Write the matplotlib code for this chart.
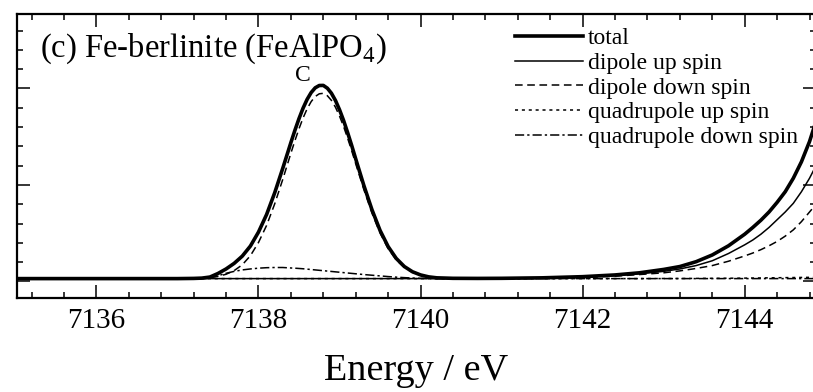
import matplotlib
matplotlib.use("Agg")
import matplotlib.pyplot as plt
from matplotlib.ticker import MultipleLocator, NullFormatter

plt.rcParams["font.family"] = ["Liberation Serif", "DejaVu Serif"]
plt.rcParams["mathtext.fontset"] = "custom"
plt.rcParams["mathtext.rm"] = "Liberation Serif"

# energy grid (eV)
energy = [7135.0, 7136.0, 7136.8,
          7137.0, 7137.1, 7137.2, 7137.3, 7137.4, 7137.5, 7137.6, 7137.7,
          7137.8, 7137.9, 7138.0, 7138.1, 7138.2, 7138.3, 7138.4,
          7138.45, 7138.5, 7138.55, 7138.6, 7138.65, 7138.7, 7138.75, 7138.8,
          7138.85, 7138.9, 7138.95, 7139.0, 7139.05, 7139.1, 7139.15,
          7139.2, 7139.3, 7139.4, 7139.5, 7139.6, 7139.7, 7139.8, 7139.9,
          7140.0, 7140.1, 7140.2,
          7140.4, 7140.7, 7141.0, 7141.5, 7142.0, 7142.4, 7142.7, 7143.0,
          7143.2, 7143.4, 7143.6, 7143.8, 7144.0, 7144.1, 7144.2, 7144.3,
          7144.4, 7144.5, 7144.6, 7144.7, 7144.8, 7144.88]

total = [0.03, 0.03, 0.03,
         0.03, 0.031, 0.032, 0.035, 0.046, 0.083, 0.130, 0.188,
         0.263, 0.367, 0.512, 0.694, 0.919, 1.174, 1.440,
         1.568, 1.688, 1.796, 1.887, 1.958, 2.007, 2.031, 2.032,
         2.003, 1.951, 1.876, 1.780, 1.669, 1.543, 1.410,
         1.270, 0.996, 0.745, 0.530, 0.362, 0.239, 0.155, 0.101,
         0.068, 0.048, 0.038,
         0.033, 0.032, 0.033, 0.038, 0.05, 0.068, 0.09, 0.125,
         0.155, 0.205, 0.275, 0.37, 0.49, 0.56, 0.635, 0.72,
         0.82, 0.93, 1.07, 1.24, 1.45, 1.66]

dipole_up = [0.03] * 44 + [
    0.03, 0.031, 0.032, 0.036, 0.045, 0.06, 0.08, 0.105,
    0.13, 0.165, 0.215, 0.29, 0.38, 0.43, 0.49, 0.56,
    0.64, 0.72, 0.81, 0.93, 1.07, 1.20]

dipole_down = [0.03, 0.03, 0.03,
               0.03, 0.031, 0.032, 0.035, 0.041, 0.053, 0.075, 0.113,
               0.173, 0.267, 0.404, 0.581, 0.804, 1.059, 1.330,
               1.460, 1.583, 1.694, 1.789, 1.864, 1.917, 1.945, 1.950,
               1.925, 1.877, 1.806, 1.714, 1.607, 1.485, 1.356,
               1.220, 0.954, 0.710, 0.502, 0.341, 0.224, 0.145, 0.095,
               0.065, 0.047, 0.038,
               0.031, 0.03, 0.031, 0.034, 0.04, 0.055, 0.072, 0.09,
               0.11, 0.135, 0.165, 0.21, 0.265, 0.295, 0.33, 0.37,
               0.415, 0.47, 0.535, 0.62, 0.72, 0.80]

quad_up = [0.03] * 44 + [
    0.03, 0.03, 0.03, 0.03, 0.03, 0.03, 0.03, 0.031,
    0.031, 0.032, 0.033, 0.034, 0.035, 0.036, 0.037, 0.038,
    0.039, 0.04, 0.041, 0.042, 0.043, 0.044]

quad_down = [0.03, 0.03, 0.03,
             0.03, 0.03, 0.03, 0.03, 0.035, 0.06, 0.085, 0.105,
             0.12, 0.13, 0.138, 0.143, 0.145, 0.145, 0.14,
             0.138, 0.135, 0.132, 0.128, 0.124, 0.12, 0.116, 0.112,
             0.108, 0.104, 0.100, 0.096, 0.092, 0.088, 0.084,
             0.08, 0.072, 0.065, 0.058, 0.051, 0.045, 0.04, 0.036,
             0.033, 0.031, 0.03] + [0.03] * 22

for s in (total, dipole_up, dipole_down, quad_up, quad_down):
    assert len(s) == len(energy)

fig = plt.figure(figsize=(8.13, 3.92), dpi=100)
ax = fig.add_axes([17 / 813, 94 / 392, 799 / 813, 284 / 392])

ax.plot(energy, quad_down, color="black", lw=1.1, ls=(0, (6, 2, 1.5, 2)),
        label="quadrupole down spin")
ax.plot(energy, quad_up, color="black", lw=1.1, ls=(0, (2, 2.5)),
        label="quadrupole up spin")
ax.plot(energy, dipole_down, color="black", lw=1.1, ls=(0, (5, 3)),
        label="dipole down spin")
ax.plot(energy, dipole_up, color="black", lw=1.1, label="dipole up spin")
ax.plot(energy, total, color="black", lw=2.6, label="total")

ax.set_xlim(7135.02, 7144.88)
ax.set_ylim(-0.171, 2.772)

ax.xaxis.set_major_locator(MultipleLocator(2))
ax.xaxis.set_minor_locator(MultipleLocator(0.4))
ax.yaxis.set_major_locator(MultipleLocator(1))
ax.yaxis.set_minor_locator(MultipleLocator(0.2))
ax.yaxis.set_major_formatter(NullFormatter())
ax.tick_params(which="both", direction="in", top=True, right=True, width=1.1)
ax.tick_params(which="major", length=9.5, labelsize=21, pad=7)
ax.tick_params(which="minor", length=4.5)
for s in ax.spines.values():
    s.set_linewidth(1.6)

ax.set_xlabel("Energy / eV", fontsize=27.5, labelpad=14)

ax.text(0.029, 0.877, r"(c) Fe-berlinite (FeAlPO$_\mathrm{4}$)",
        transform=ax.transAxes, fontsize=23.5, va="center", ha="left")
ax.text(7138.55, 2.13, "C", fontsize=17, ha="center", va="center")

handles, labels = ax.get_legend_handles_labels()
ax.legend(handles[::-1], labels[::-1], loc="upper left",
          bbox_to_anchor=(0.623, 0.951), frameon=False, fontsize=17,
          handlelength=2.9, handletextpad=0.21, labelspacing=0.13,
          borderpad=0, borderaxespad=0)

fig.savefig("out.png", dpi=100)
